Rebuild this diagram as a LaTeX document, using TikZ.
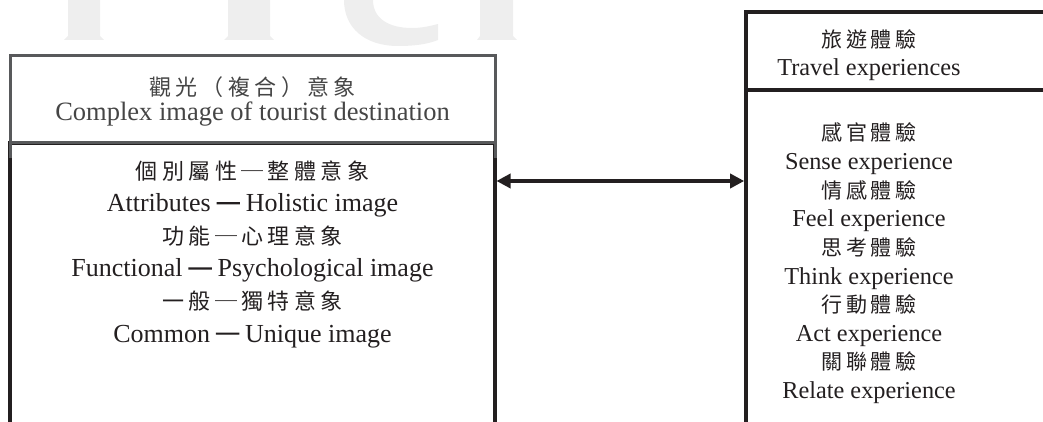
\documentclass[tikz,border=0pt]{standalone}
\usepackage{fontspec}
\setmainfont{Liberation Serif}
\newfontfamily\cjkL[LetterSpace=20]{Noto Sans CJK TC}
\newfontfamily\cjkR[LetterSpace=16]{Noto Sans CJK TC}
\newfontfamily\cjkB[FakeBold=6]{Noto Sans CJK TC}
\usetikzlibrary{arrows.meta}
\definecolor{ink}{HTML}{231F20}
\definecolor{boxgray}{HTML}{58595B}
\definecolor{headgray}{HTML}{454545}
\definecolor{wmark}{HTML}{EEEEEE}
\newcommand\heavydash{{\fontsize{22}{22}\cjkB ─}}
\begin{document}
\begin{tikzpicture}[x=1pt,y=-1pt,
  gbox/.style={draw=boxgray,line width=3pt,inner sep=0pt,outer sep=0pt,anchor=north west},
  dbox/.style={draw=ink,line width=3.5pt,inner sep=0pt,outer sep=0pt,anchor=north west},
  gline/.style={draw=boxgray,line width=3pt},
  link/.style={draw=ink,line width=3.4pt,{Triangle[length=14pt,width=14pt]}-{Triangle[length=14pt,width=14pt]},shorten <=1.5pt,shorten >=1.8pt},
  zhL/.style={anchor=base,inner sep=0pt,text=ink,font={\fontsize{22}{22}\cjkL}},
  enL/.style={anchor=base,inner sep=0pt,text=ink,font={\fontsize{26}{26}\selectfont}},
  zhR/.style={anchor=base,inner sep=0pt,text=ink,font={\fontsize{21}{21}\cjkR}},
  enR/.style={anchor=base,inner sep=0pt,text=ink,font={\fontsize{24.3}{24.3}\selectfont}},
  wm/.style={fill=wmark,draw=none}]
\useasboundingbox (0,0) rectangle (1043,422);
% watermark
\fill[wm] (68,0) -- (68,36) -- (64,40) -- (104,40) -- (100,36) -- (100,0) -- cycle;
\fill[wm] (228,0) -- (228,36) -- (224,40) -- (274,40) -- (270,36) -- (270,0) -- cycle;
\fill[wm] (344,0) .. controls (344,28) and (365,46) .. (398,46) .. controls (416,46) and (428,44) .. (438,40) -- (438,24) .. controls (430,26) and (422,28) .. (412,28) .. controls (388,28) and (373,18) .. (373,0) -- cycle;
\fill[wm] (480,0) -- (480,36) -- (477,40) -- (517,40) -- (513,36) -- (513,0) -- cycle;
% boxes
\node[dbox,minimum width=485pt,minimum height=300pt] (lbody) at (10,143) {};
\node[gbox,minimum width=485pt,minimum height=87pt] (lhead) at (10,56) {};
\draw[gline] (lhead.south west) -- ++(0,15);
\draw[gline] (lhead.south east) -- ++(0,15);
\node[dbox,minimum width=330pt,minimum height=360pt] (rbody) at (746,90) {};
\node[dbox,minimum width=330pt,minimum height=78pt] (rhead) at (746,12) {};
% connector
\coordinate (ay) at (0,181);
\draw[link] (lbody.east |- ay) -- (rbody.west |- ay);
% left header text
\node[zhL,text=headgray] (lh1) at (252.5,96) {觀光（複合）意象};
\node[enL,text=headgray,font={\fontsize{26.5}{26.5}\selectfont}] (lh2) at (252.5,121) {Complex image of tourist destination};
% left body text
\node[zhL] (l1) at (252.5,179) {個別屬性─整體意象};
\node[enL] (l2) at (252.5,211.6) {Attributes \heavydash{} Holistic image};
\node[zhL] (l3) at (252.5,244.2) {功能─心理意象};
\node[enL] (l4) at (252.5,276.8) {Functional \heavydash{} Psychological image};
\node[zhL] (l5) at (252.5,309.4) {一般─獨特意象};
\node[enL] (l6) at (252.5,342) {Common \heavydash{} Unique image};
% right header text
\node[zhR] (rh1) at (869,48) {旅遊體驗};
\node[enR] (rh2) at (869,76) {Travel experiences};
% right body text
\node[zhR] (r1) at (869,141) {感官體驗};
\node[enR] (r2) at (869,169.6) {Sense experience};
\node[zhR] (r3) at (869,198.2) {情感體驗};
\node[enR] (r4) at (869,226.8) {Feel experience};
\node[zhR] (r5) at (869,255.4) {思考體驗};
\node[enR] (r6) at (869,284) {Think experience};
\node[zhR] (r7) at (869,312.6) {行動體驗};
\node[enR] (r8) at (869,341.2) {Act experience};
\node[zhR] (r9) at (869,369.8) {關聯體驗};
\node[enR] (r10) at (869,398.4) {Relate experience};
\end{tikzpicture}
\end{document}
